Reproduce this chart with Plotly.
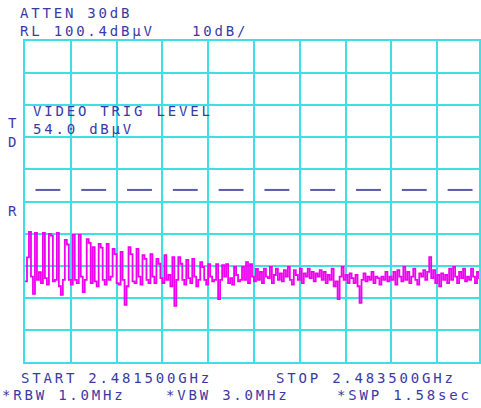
import numpy as np
import plotly.graph_objects as go

# Sweep settings
START_MHZ = 2481.5
STOP_MHZ = 2483.5
REF_LEVEL = 100.4        # dBµV at top graticule line
DB_PER_DIV = 10
TRIG_LEVEL = 54.0        # dBµV video trigger level

# Trace amplitude (dBµV), evenly spaced from start to stop frequency
levels = [
    25.5, 33.0, 40.9, 27.0, 21.6, 40.6, 26.0, 28.4, 25.0, 40.6,
    26.5, 24.5, 40.3, 39.8, 25.5, 26.0, 40.6, 24.0, 21.3, 26.0,
    38.4, 37.0, 26.0, 24.5, 40.0, 26.0, 25.0, 40.0, 27.0, 22.2,
    26.0, 38.7, 37.5, 25.0, 36.2, 25.5, 24.0, 37.2, 36.0, 26.0,
    24.5, 37.2, 26.0, 27.0, 35.6, 34.0, 25.0, 24.5, 34.7, 26.0,
    18.2, 24.0, 36.2, 34.0, 25.5, 25.0, 35.6, 27.0, 24.5, 33.7,
    32.5, 26.0, 25.0, 34.0, 27.0, 25.0, 32.5, 31.0, 26.5, 25.0,
    33.7, 26.0, 27.5, 24.0, 33.1, 17.9, 26.0, 33.1, 31.0, 26.0,
    24.5, 32.2, 26.5, 25.0, 32.5, 27.0, 24.0, 26.0, 31.5, 30.0,
    26.0, 24.5, 30.9, 27.0, 25.5, 26.0, 30.9, 20.0, 26.0, 30.6,
    27.0, 30.9, 25.0, 26.5, 24.5, 30.0, 27.5, 25.5, 26.0, 30.0,
    26.0, 31.5, 25.0, 30.9, 27.0, 25.5, 29.4, 26.0, 28.5, 25.0,
    29.5, 27.0, 26.5, 30.0, 25.0, 27.5, 29.5, 26.0, 28.0, 25.5,
    29.0, 27.0, 30.0, 26.0, 24.5, 29.0, 27.5, 26.0, 29.5, 25.0,
    28.0, 27.0, 29.5, 26.5, 28.5, 25.5, 28.0, 27.0, 29.0, 26.0,
    28.5, 25.0, 27.5, 26.0, 29.5, 24.0, 25.5, 20.0, 27.0, 30.0,
    26.0, 27.5, 25.0, 28.0, 26.5, 25.0, 27.5, 24.0, 18.8, 26.0,
    28.0, 25.5, 27.0, 26.0, 28.5, 25.0, 27.0, 26.5, 24.5, 27.0,
    26.0, 28.5, 25.5, 27.0, 26.0, 28.5, 24.5, 29.0, 27.0, 25.5,
    30.0, 26.0, 28.5, 25.0, 27.0, 29.5, 26.0, 24.5, 28.0, 27.0,
    29.0, 26.0, 28.5, 33.1, 26.5, 29.0, 25.0, 27.5, 24.0, 28.0,
    26.0, 27.5, 25.0, 29.5, 26.0, 30.0, 27.0, 25.0, 28.5, 26.5,
    29.5, 25.5, 27.0, 26.0, 29.5, 27.0, 25.0, 28.5, 26.5, 27.5,
    26.0,
]

# Screen annotation texts
header_lines = ["ATTEN 30dB", "RL 100.4dBµV", "10dB/"]
trig_lines = ["VIDEO TRIG LEVEL", "54.0 dBµV"]
side_marks = ["T", "D", "R"]
footer_lines = ["START 2.481500GHz", "STOP 2.483500GHz",
                "*RBW 1.0MHz", "*VBW 3.0MHz", "*SWP 1.58sec"]

# Layout in pixels
W, H = 481, 408
L, T, B = 25, 41, 46
plot_w = W - L
plot_h = H - T - B
DIV_PX = 46.0
N_DIV = 10
span = STOP_MHZ - START_MHZ
mhz_per_px = span / (DIV_PX * N_DIV)
x_max = START_MHZ + plot_w * mhz_per_px

GRID = "#3fdfe6"
TEXT = "#3a3aa6"
TRACE = "#f000f0"
DASH = "#5a5aaa"
FONT = "DejaVu Sans Mono"

freqs = np.linspace(START_MHZ, STOP_MHZ, len(levels))

fig = go.Figure()
fig.add_trace(go.Scatter(
    x=freqs, y=levels, mode="lines",
    line=dict(color=TRACE, width=1.8, shape="hv"),
    hoverinfo="skip", showlegend=False,
))

# Trigger level marker: one short dash centred in each division
div_mhz = span / N_DIV
half = 12.5 * mhz_per_px
dx, dy = [], []
for i in range(N_DIV):
    c = START_MHZ + div_mhz * (i + 0.5)
    dx += [c - half, c + half, None]
    dy += [TRIG_LEVEL, TRIG_LEVEL, None]
fig.add_trace(go.Scatter(
    x=dx, y=dy, mode="lines", line=dict(color=DASH, width=2),
    hoverinfo="skip", showlegend=False,
))


def px(xp):
    return (xp - L) / plot_w


def py(yp):
    return (H - B - yp) / plot_h


def label(text, xp, yp, size=14, spacing=2.8):
    fig.add_annotation(
        text=f'<span style="letter-spacing:{spacing}px">{text}</span>',
        x=px(xp), y=py(yp), xref="paper", yref="paper",
        xanchor="left", yanchor="middle", align="left", showarrow=False,
        font=dict(family=FONT, size=size, color=TEXT),
        borderpad=0,
    )


label(header_lines[0], 19, 13)
label(header_lines[1], 19, 31)
label(header_lines[2], 192, 31)
label("<br>".join(trig_lines), 32, 120)
label(side_marks[0], 7, 123)
label(side_marks[1], 7, 142)
label(side_marks[2], 7, 211)
label(footer_lines[0], 20, 378)
label(footer_lines[1], 276, 378)
label(footer_lines[2], 1, 395)
label(footer_lines[3], 166, 395)
label(footer_lines[4], 337, 395)

fig.update_xaxes(
    range=[START_MHZ, x_max], tick0=START_MHZ, dtick=div_mhz,
    showgrid=True, gridcolor=GRID, gridwidth=2, zeroline=False,
    showticklabels=False, ticks="", showline=True, linecolor=GRID,
    linewidth=2, mirror=True, fixedrange=True,
)
fig.update_yaxes(
    range=[REF_LEVEL - N_DIV * DB_PER_DIV, REF_LEVEL],
    tick0=REF_LEVEL, dtick=DB_PER_DIV,
    showgrid=True, gridcolor=GRID, gridwidth=2, zeroline=False,
    showticklabels=False, ticks="", showline=True, linecolor=GRID,
    linewidth=2, mirror=True, fixedrange=True,
)
fig.update_layout(
    width=W, height=H,
    margin=dict(l=L, r=0, t=T, b=B, pad=0),
    paper_bgcolor="white", plot_bgcolor="white",
    showlegend=False,
)

fig.write_html("out.html", config={"displayModeBar": False})
